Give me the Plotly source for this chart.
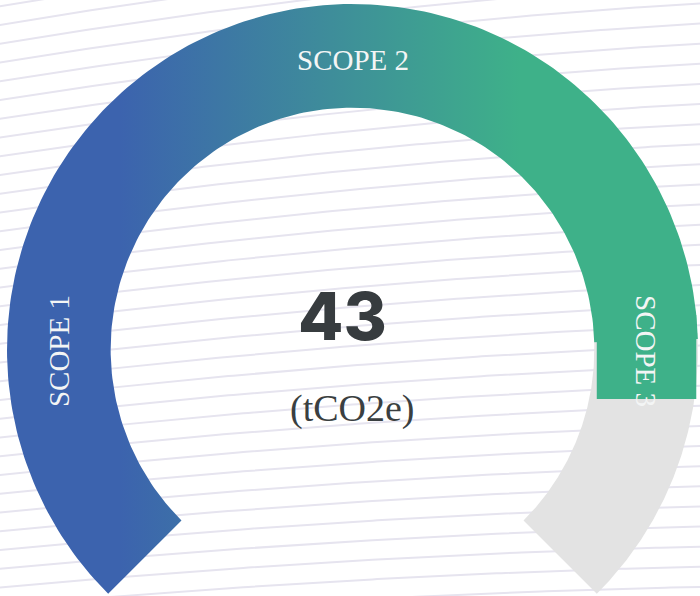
import numpy as np
import plotly.graph_objects as go

# ---------------- data ----------------
total_value = 43
gauge_max = 52          # estimated scale maximum (arc fill ~ 83%)
unit_label = "(tCO2e)"
scope_labels = ["SCOPE 1", "SCOPE 2", "SCOPE 3"]

# ---------------- geometry / style constants ----------------
W, H = 700, 596
PX = 345.5                      # pixels per radius unit
CX, CY = 352.5, 349.5           # centre of gauge in pixels (from top-left)
R_OUT, R_IN = 1.0, 0.70
SWEEP_START, SWEEP_END = -135.0, 135.0
LABEL_ANGLES = [-90, 0, 90]
R_MID = (R_OUT + R_IN) / 2

BLUE, MID, GREEN = "#3c63ae", "#3e8b9b", "#3eb189"
GREY = "#e3e3e3"
BG_LINE = "#e6e4ef"

x_range = [-CX / PX, (W - CX) / PX]
y_range = [-(H - CY) / PX, CY / PX]


def arc_polygon(a0, a1, r0, r1, n=200):
    t = np.radians(np.linspace(a0, a1, n))
    xo, yo = r1 * np.sin(t), r1 * np.cos(t)
    xi, yi = r0 * np.sin(t[::-1]), r0 * np.cos(t[::-1])
    xs = np.concatenate([xo, xi, xo[:1]])
    ys = np.concatenate([yo, yi, yo[:1]])
    return xs, ys


fig = go.Figure()

# decorative background: gently curved lines
xs_px = np.linspace(-20, W + 20, 150)
for y0 in np.arange(-140, H + 140, 18.7):
    ys_px = [y0]
    for i in range(1, len(xs_px)):
        xp, yp = xs_px[i - 1], ys_px[-1]
        fx, fy = xp / W, yp / H
        s = 0.17 - 0.11 * fx - 0.08 * fy + 0.04 * fx * fy
        ys_px.append(yp - s * (xs_px[i] - xp))
    ys_px = np.array(ys_px)
    fig.add_trace(go.Scatter(
        x=(xs_px - CX) / PX, y=(CY - ys_px) / PX, mode="lines",
        line=dict(color=BG_LINE, width=2), hoverinfo="skip", showlegend=False))

# grey remainder of the gauge
fill_end = SWEEP_START + (SWEEP_END - SWEEP_START) * total_value / gauge_max
gx, gy = arc_polygon(fill_end - 1, SWEEP_END, R_IN, R_OUT)
fig.add_trace(go.Scatter(x=gx, y=gy, mode="lines", fill="toself",
                         fillcolor=GREY, line=dict(width=0),
                         hoverinfo="skip", showlegend=False))

# coloured value arc with horizontal gradient
vx, vy = arc_polygon(SWEEP_START, fill_end, R_IN, R_OUT)
fig.add_trace(go.Scatter(
    x=vx, y=vy, mode="lines", fill="toself", line=dict(width=0),
    fillgradient=dict(type="horizontal",
                      colorscale=[[0, BLUE], [0.5, MID], [1, GREEN]],
                      start=(120 - CX) / PX, stop=(520 - CX) / PX),
    hoverinfo="skip", showlegend=False))

# label background box for the SCOPE 3 label (sits across the ring)
bx0, bx1 = R_IN * 1.01, 0.995
by0, by1 = -0.143, 0.10
fig.add_trace(go.Scatter(x=[bx0, bx1, bx1, bx0, bx0], y=[by0, by0, by1, by1, by0],
                         mode="lines", fill="toself", fillcolor=GREEN,
                         line=dict(width=0), hoverinfo="skip", showlegend=False))

annotations = []
for lab, ang in zip(scope_labels, LABEL_ANGLES):
    t = np.radians(ang)
    annotations.append(dict(
        x=R_MID * np.sin(t), y=R_MID * np.cos(t) - (0.012 if ang == 0 else 0.005),
        text=lab, showarrow=False, textangle=ang,
        font=dict(family="Liberation Serif", size=29, color="#f3f5f5"),
        xanchor="center", yanchor="middle"))

annotations.append(dict(
    x=-0.030, y=0.097, text=str(total_value), showarrow=False,
    font=dict(family="Inter", size=66, color="#373c3f", weight=800),
    xanchor="center", yanchor="middle"))
annotations.append(dict(
    x=0.0, y=-0.172, text=unit_label, showarrow=False,
    font=dict(family="Liberation Serif", size=38, color="#3a3f41"),
    xanchor="center", yanchor="middle"))

fig.update_layout(
    width=W, height=H, margin=dict(l=0, r=0, t=0, b=0),
    paper_bgcolor="white", plot_bgcolor="white",
    xaxis=dict(range=x_range, visible=False, fixedrange=True),
    yaxis=dict(range=y_range, visible=False, fixedrange=True),
    annotations=annotations, showlegend=False)

fig.write_html("out.html", config={"displayModeBar": False},
               post_script="document.body.style.margin='0';document.body.style.padding='0';")
